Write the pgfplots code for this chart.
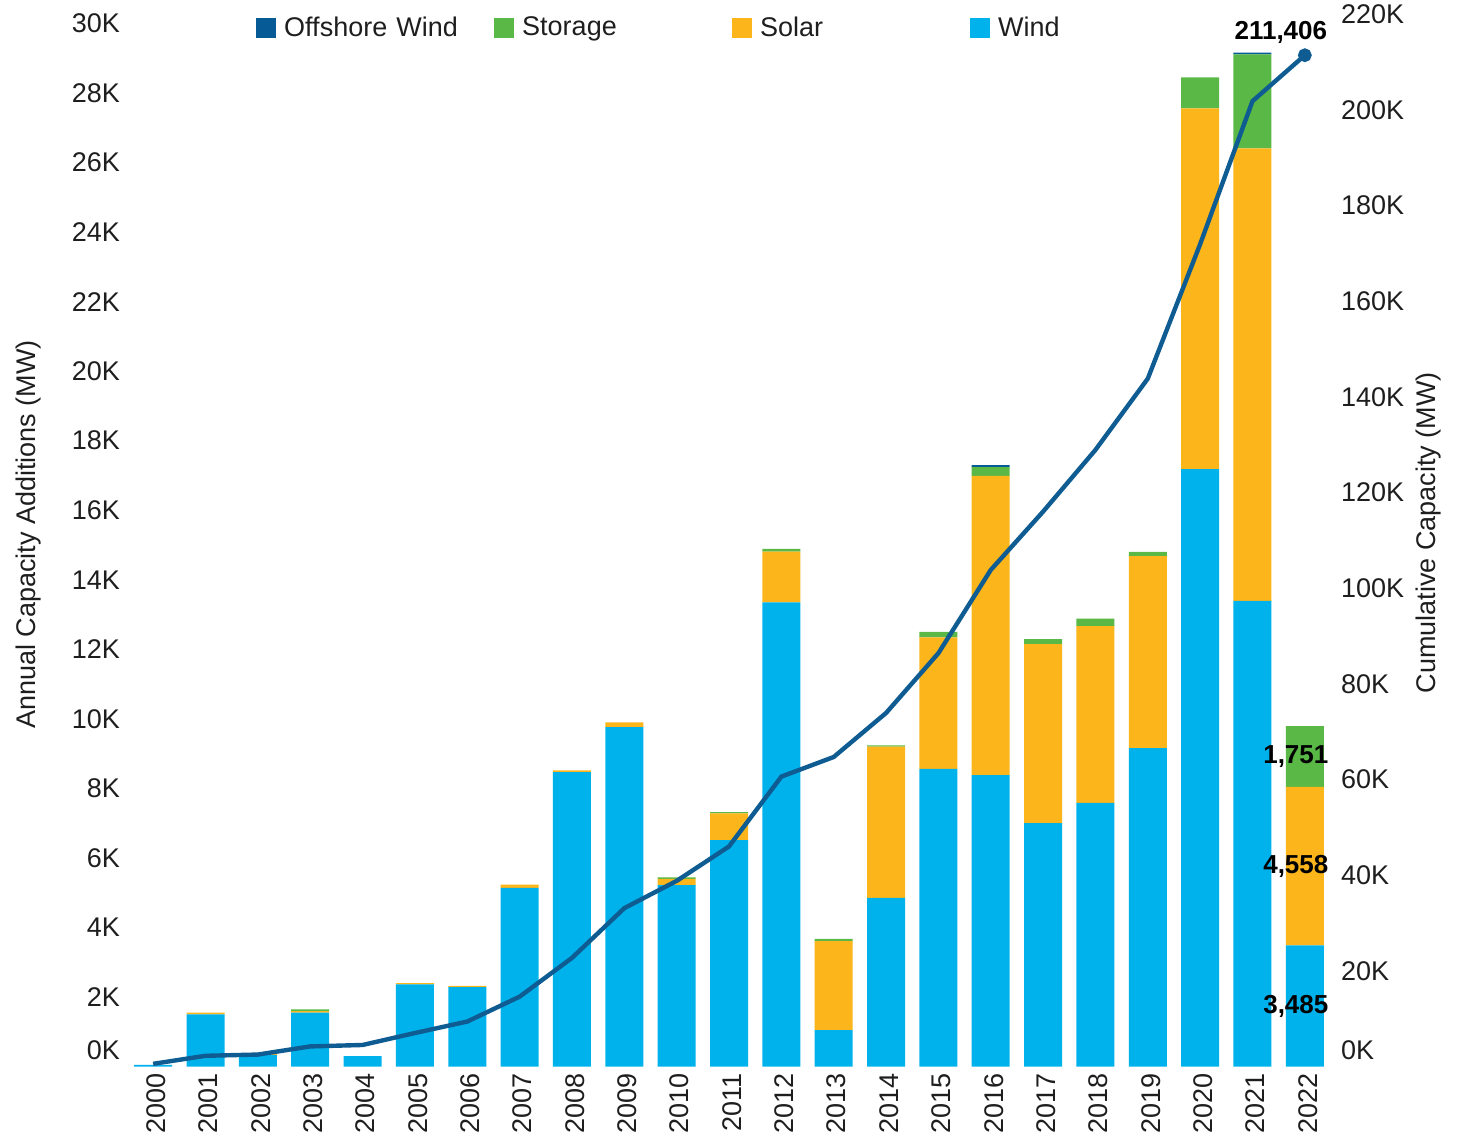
\documentclass[border=0pt]{standalone}
\usepackage{pgfplots}
\pgfplotsset{compat=1.18}
\usepackage{fontspec}
\setmainfont{Liberation Sans}
\definecolor{windc}{RGB}{0,178,236}
\definecolor{solarc}{RGB}{252,181,26}
\definecolor{storc}{RGB}{89,184,70}
\definecolor{offc}{RGB}{6,90,150}
\definecolor{linec}{RGB}{14,92,145}
\definecolor{txt}{RGB}{30,30,30}
\begin{document}
\begin{tikzpicture}[font=\fontsize{13.5}{16}\selectfont]
\useasboundingbox (-63.5pt,-35.25pt) rectangle (669.5pt,533.25pt);
\begin{axis}[
  at={(0pt,0pt)}, anchor=south west,
  scale only axis, width=602pt, height=521.5pt,
  xmin=-0.5, xmax=22.5, ymin=0, ymax=30000,
  ybar stacked, bar width=19pt,
  axis line style={draw=none}, tick style={draw=none},
  xtick={0,...,22},
  xticklabels={2000,2001,2002,2003,2004,2005,2006,2007,2008,2009,2010,2011,2012,2013,2014,2015,2016,2017,2018,2019,2020,2021,2022},
  xticklabel style={rotate=90, anchor=east, text=txt, font=\fontsize{13.5}{16}\selectfont, xshift=0pt, yshift=-1.5pt},
  ytick={2000,4000,...,30000},
  yticklabels={2K,4K,6K,8K,10K,12K,14K,16K,18K,20K,22K,24K,26K,28K,30K},
  extra y ticks={0}, extra y tick labels={0K},
  extra y tick style={yticklabel style={yshift=8pt}},
  yticklabel style={text=txt, font=\fontsize{13.5}{16}\selectfont},
  scaled y ticks=false,
  ylabel={Annual Capacity Additions (MW)},
  ylabel style={at={(axis description cs:-0.082,0.51)}, anchor=center, rotate=0, text=txt, font=\fontsize{13.5}{16}\selectfont},
  legend columns=4,
  legend style={at={(rel axis cs:0.107,0.9957)}, anchor=west, draw=none, fill=none, inner sep=0pt,
    font=\fontsize{13.5}{16}\selectfont, text=txt,
    nodes={text width=95pt, align=left, inner xsep=0pt},
    /tikz/every odd column/.append style={column sep=4pt},
    /tikz/every even column/.append style={column sep=10pt}},
  legend image code/.code={\fill[#1] (0pt,-5pt) rectangle (10pt,5pt);},
]
\addlegendimage{fill=offc, draw=none}
\addlegendentry{Offshore Wind}
\addlegendimage{fill=storc, draw=none}
\addlegendentry{Storage}
\addlegendimage{fill=solarc, draw=none}
\addlegendentry{Solar}
\addlegendimage{fill=windc, draw=none}
\addlegendentry{Wind}
% Wind
\addplot[fill=windc, draw=none, forget plot] coordinates {
(0,50) (1,1500) (2,330) (3,1550) (4,300) (5,2360) (6,2280) (7,5140) (8,8470) (9,9760)
(10,5220) (11,6510) (12,13350) (13,1050) (14,4850) (15,8560) (16,8380) (17,7000)
(18,7580) (19,9160) (20,17180) (21,13390) (22,3485)};
% Solar
\addplot[fill=solarc, draw=none, forget plot] coordinates {
(0,0) (1,50) (2,30) (3,40) (4,0) (5,40) (6,40) (7,90) (8,50) (9,140)
(10,180) (11,770) (12,1460) (13,2560) (14,4350) (15,3780) (16,8610) (17,5150)
(18,5090) (19,5520) (20,10380) (21,13020) (22,4558)};
% Storage
\addplot[fill=storc, draw=none, forget plot] coordinates {
(0,0) (1,0) (2,0) (3,50) (4,0) (5,0) (6,0) (7,0) (8,0) (9,0)
(10,40) (11,40) (12,80) (13,60) (14,40) (15,160) (16,250) (17,140)
(18,210) (19,120) (20,890) (21,2700) (22,1751)};
% Offshore Wind
\addplot[fill=offc, draw=none, forget plot] coordinates {
(0,0) (1,0) (2,0) (3,0) (4,0) (5,0) (6,0) (7,0) (8,0) (9,0)
(10,0) (11,0) (12,0) (13,0) (14,0) (15,0) (16,60) (17,0)
(18,0) (19,0) (20,0) (21,50) (22,0)};
\end{axis}
\begin{axis}[
  at={(0pt,0pt)}, anchor=south west,
  scale only axis, width=602pt, height=526.2pt,
  xmin=-0.5, xmax=22.5, ymin=0, ymax=220000,
  axis x line=none, axis y line*=right,
  axis line style={draw=none}, tick style={draw=none},
  ytick={20000,40000,...,220000},
  yticklabels={20K,40K,60K,80K,100K,120K,140K,160K,180K,200K,220K},
  extra y ticks={0}, extra y tick labels={0K},
  extra y tick style={yticklabel style={yshift=8pt}},
  yticklabel style={text=txt, font=\fontsize{13.5}{16}\selectfont, xshift=1.5pt},
  scaled y ticks=false,
  ylabel={Cumulative Capacity (MW)},
  ylabel style={at={(axis description cs:1.0806,0.507)}, anchor=center, rotate=0, text=txt, font=\fontsize{13.5}{16}\selectfont},
]
\addplot[linec, line width=2.2pt, mark=*, mark size=2.3pt, mark indices={23}, mark options={fill=linec, draw=linec}] coordinates {
(0,560) (1,2240) (2,2500) (3,4200) (4,4500) (5,7000) (6,9400) (7,14600) (8,22700) (9,33100)
(10,38800) (11,46000) (12,60600) (13,64700) (14,73900) (15,86400) (16,103800) (17,116000)
(18,128900) (19,143800) (20,171900) (21,201800) (22,211406)};
\node[font=\bfseries\fontsize{13}{15}\selectfont, text=black] at (axis cs:22,211406) [xshift=-12pt, yshift=11.5pt] {211,406};
% 2022 segment labels (left-axis values 1742, 5764, 8919 converted to this axis)
\node[font=\bfseries\fontsize{13}{15}\selectfont, text=black] at (axis cs:22,12661) [xshift=-4.5pt] {3,485};
\node[font=\bfseries\fontsize{13}{15}\selectfont, text=black] at (axis cs:22,41893) [xshift=-4.5pt] {4,558};
\node[font=\bfseries\fontsize{13}{15}\selectfont, text=black] at (axis cs:22,64824) [xshift=-4.5pt] {1,751};
\end{axis}
\end{tikzpicture}
\end{document}
